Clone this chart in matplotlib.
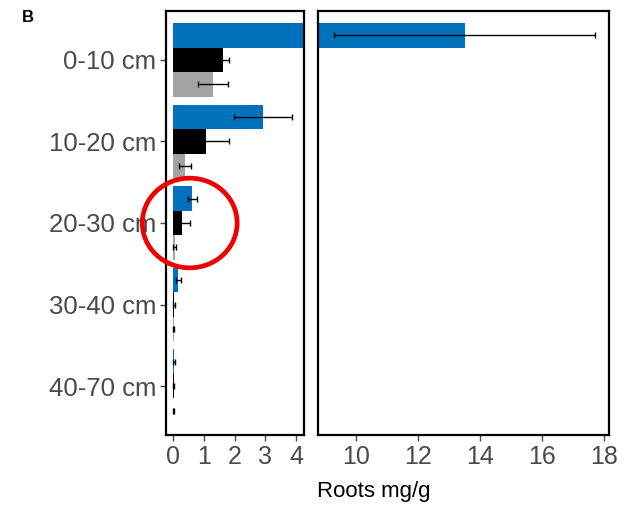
import matplotlib
matplotlib.use("Agg")
import matplotlib.pyplot as plt
from matplotlib.patches import Ellipse
import numpy as np

plt.rcParams['font.family'] = ['Liberation Sans', 'DejaVu Sans']

categories = ["0-10 cm", "10-20 cm", "20-30 cm", "30-40 cm", "40-70 cm"]
blue_vals = [13.5, 2.92, 0.63, 0.17, 0.04]
blue_err = [4.2, 0.93, 0.14, 0.09, 0.03]
black_vals = [1.61, 1.06, 0.29, 0.03, 0.02]
black_err = [0.2, 0.76, 0.25, 0.04, 0.02]
gray_vals = [1.3, 0.39, 0.05, 0.02, 0.01]
gray_err = [0.48, 0.2, 0.05, 0.01, 0.01]
left_ticks = [0, 1, 2, 3, 4]
right_ticks = [10, 12, 14, 16, 18]

BLUE = '#0071BC'
BLACK = '#000000'
GRAY = '#A3A3A3'
TICKC = '#4A4A4A'

fig = plt.figure(figsize=(6.3, 5.05), dpi=100)
ax1 = fig.add_axes([166/630, 1-435/505, 138/630, 424/505])
ax2 = fig.add_axes([318/630, 1-435/505, 291/630, 424/505], sharey=ax1)

n = len(categories)
ypos = np.arange(n, 0, -1).astype(float)
h = 0.3
series = [(blue_vals, blue_err, BLUE, h), (black_vals, black_err, BLACK, 0.0),
          (gray_vals, gray_err, GRAY, -h)]

for ax in (ax1, ax2):
    for vals, errs, col, off in series:
        ax.barh(ypos + off, vals, height=h, color=col, edgecolor='none', zorder=2)
        ax.errorbar(vals, ypos + off, xerr=errs, fmt='none', ecolor='black',
                    elinewidth=1.0, capsize=2.2, capthick=1.0, zorder=3)
    for sp in ax.spines.values():
        sp.set_linewidth(1.6)
        sp.set_color('black')
    ax.tick_params(axis='both', colors=TICKC, labelsize=18, length=4, width=1.0,
                   labelcolor=TICKC)

ax1.set_ylim(0.4, 5.6)
ax1.set_xlim(-0.23, 4.25)
ax1.set_xticks(left_ticks)
ax1.set_yticks(ypos)
ax1.set_yticklabels(categories, fontsize=18.5)
ax1.tick_params(axis='y', pad=3)

ax2.set_xlim(8.77, 18.16)
ax2.set_xticks(right_ticks)
ax2.tick_params(axis='y', left=False, labelleft=False)

fig.text(317/630, 1-492/505, "Roots mg/g", fontsize=16, ha='left', va='center', color='black')
fig.text(28/630, 1-18/505, "B", fontsize=12, fontweight='bold', ha='center', va='center')

# red circle annotation around 20-30 cm group
ell = Ellipse((0.54, ypos[2]), width=3.08, height=1.1, fill=False,
              edgecolor='#EE0000', linewidth=3.4, clip_on=False, zorder=5)
ax1.add_patch(ell)

fig.savefig("out.png", dpi=100)
